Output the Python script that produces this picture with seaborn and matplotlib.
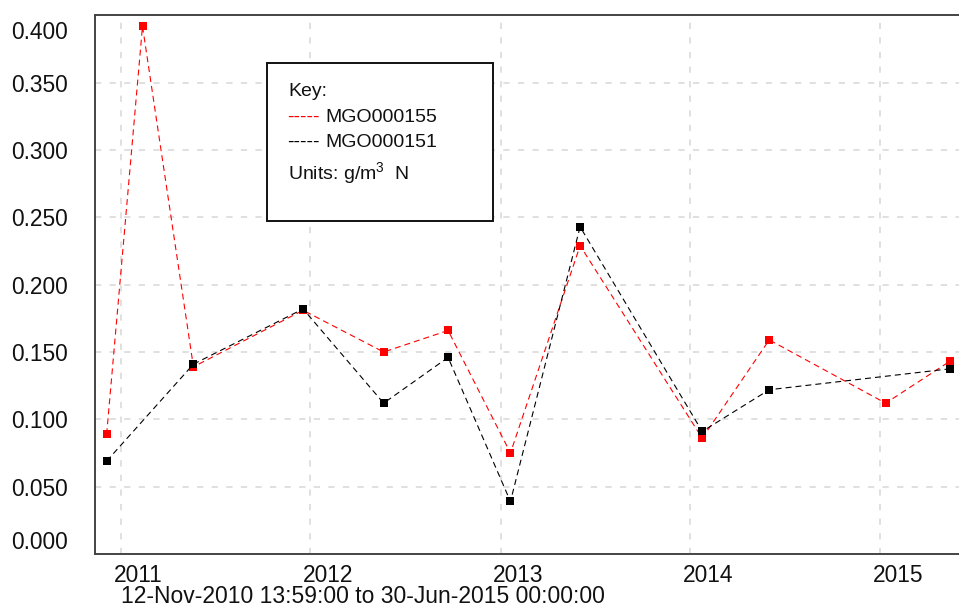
import matplotlib
matplotlib.use("Agg")
import matplotlib.pyplot as plt
import matplotlib.dates as mdates
from matplotlib.transforms import ScaledTranslation
from matplotlib.patches import Rectangle
import seaborn as sns
import pandas as pd
import numpy as np

# ---- data ----
dates_155 = ["2010-12-05", "2011-02-12", "2011-05-21", "2011-12-18", "2012-05-21",
             "2012-09-22", "2013-01-20", "2013-06-03", "2014-01-24", "2014-06-02",
             "2015-01-12", "2015-05-15"]
values_155 = [0.089, 0.392, 0.139, 0.181, 0.150, 0.166, 0.075, 0.229, 0.086, 0.159,
              0.112, 0.143]
dates_151 = ["2010-12-05", "2011-05-21", "2011-12-18", "2012-05-21", "2012-09-22",
             "2013-01-20", "2013-06-03", "2014-01-24", "2014-06-02", "2015-05-15"]
values_151 = [0.069, 0.141, 0.182, 0.112, 0.146, 0.039, 0.243, 0.091, 0.122, 0.1375]
series_names = ["MGO000155", "MGO000151"]
series_colors = ["#ff0000", "#000000"]
y_ticks = [0.0, 0.05, 0.10, 0.15, 0.20, 0.25, 0.30, 0.35, 0.40]
x_start = "2010-11-12 13:59:00"
x_end = "2015-06-30 00:00:00"
x_label = "12-Nov-2010 13:59:00 to 30-Jun-2015 00:00:00"
key_title = "Key:"
units_text = "Units: g/m$^{3}$  N"

df155 = pd.DataFrame({"date": pd.to_datetime(dates_155), "value": values_155})
df151 = pd.DataFrame({"date": pd.to_datetime(dates_151), "value": values_151})

sns.set_theme(style="white")
plt.rcParams["font.family"] = ["Liberation Sans", "DejaVu Sans"]
plt.rcParams["mathtext.fontset"] = "custom"
plt.rcParams["mathtext.rm"] = "Liberation Sans"
plt.rcParams["mathtext.default"] = "regular"
plt.rcParams["lines.scale_dashes"] = False

W, H = 959, 609
fig = plt.figure(figsize=(W / 100, H / 100), dpi=100)
ax = fig.add_axes([95 / W, (H - 554) / H, (973.5 - 95) / W, (554 - 15.4) / H])

for df, col, z in [(df155, series_colors[0], 3), (df151, series_colors[1], 4)]:
    sns.lineplot(data=df, x="date", y="value", ax=ax, color=col, marker="s",
                 markersize=5.2, markeredgewidth=0, linewidth=0.8,
                 dashes=False, zorder=z)
for ln in ax.get_lines():
    ln.set_linestyle((0, (4.3, 2.9)))

ax.set_xlim(pd.Timestamp(x_start), pd.Timestamp(x_end))
ax.set_ylim(0, 0.4)
ax.set_yticks(y_ticks)
ax.yaxis.set_major_formatter(matplotlib.ticker.FormatStrFormatter("%.3f"))
ax.xaxis.set_major_locator(mdates.YearLocator())
ax.xaxis.set_major_formatter(mdates.DateFormatter("%Y"))
ax.set_xlabel("")
ax.set_ylabel("")

ax.grid(True, color="#e0e0e0", linestyle=(0, (4.5, 6)), linewidth=1.4)
ax.set_axisbelow(True)
ax.tick_params(axis="both", length=0, labelsize=16.4, colors="#111111")
ax.tick_params(axis="y", pad=19.5)
ax.tick_params(axis="x", pad=7)

for sp in ["left", "bottom", "top"]:
    ax.spines[sp].set_color("#444444")
    ax.spines[sp].set_linewidth(1.4)
ax.spines["right"].set_visible(False)

fig.canvas.draw()
for lab in ax.get_xticklabels():
    lab.set_transform(lab.get_transform() + ScaledTranslation(18 / 100, 0, fig.dpi_scale_trans))
ylabs = ax.get_yticklabels()
ylabs[0].set_transform(ylabs[0].get_transform() + ScaledTranslation(0, 14 / 100, fig.dpi_scale_trans))
ylabs[-1].set_transform(ylabs[-1].get_transform() + ScaledTranslation(0, -14.5 / 100, fig.dpi_scale_trans))

fig.text(120.7 / W, (H - 603) / H, x_label, fontsize=16.5, color="#111111",
         ha="left", va="baseline")

# key box
box = Rectangle((267 / W, (H - 221) / H), (493 - 267) / W, (221 - 63) / H,
                transform=fig.transFigure, facecolor="white", edgecolor="#111111",
                linewidth=1.4, zorder=10)
fig.patches.append(box)
fs = 14
fig.text(288 / W, (H - 91) / H, key_title, fontsize=fs, color="#111111",
         ha="left", va="center", zorder=11)
ys = [117, 142.5]
for name, col, yy in zip(series_names, series_colors, ys):
    fig.text(287 / W, (H - yy) / H, "-----", fontsize=fs, color=col,
             ha="left", va="center", zorder=11)
    fig.text(325 / W, (H - yy) / H, name, fontsize=fs, color="#111111",
             ha="left", va="center", zorder=11)
fig.text(288 / W, (H - 179) / H, units_text, fontsize=fs, color="#111111",
         ha="left", va="baseline", zorder=11)

fig.savefig("out.png", dpi=100)
